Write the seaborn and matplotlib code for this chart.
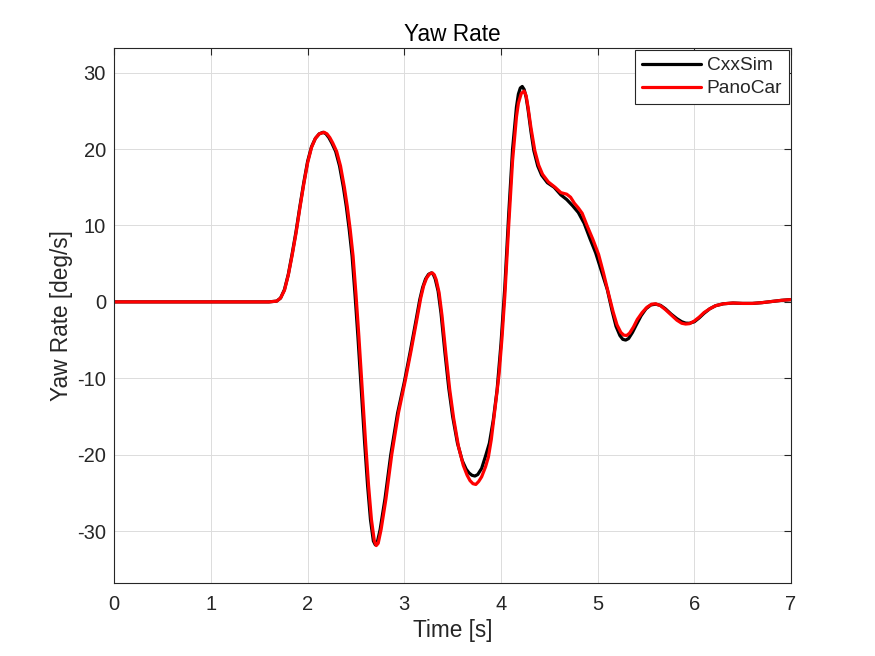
import numpy as np
import pandas as pd
import matplotlib
matplotlib.use("Agg")
import matplotlib.pyplot as plt
import seaborn as sns

# ---- data ----
cxx_t = [0.00, 1.60, 1.68, 1.72, 1.76, 1.80, 1.84, 1.88, 1.92, 1.96, 2.00, 2.04, 2.08, 2.12, 2.16,
         2.19, 2.22, 2.25, 2.29, 2.33, 2.37, 2.40, 2.43, 2.46, 2.49, 2.52, 2.55, 2.59, 2.62, 2.65, 2.68,
         2.70, 2.72, 2.75, 2.80, 2.86, 2.93, 3.00, 3.06, 3.12, 3.16, 3.19, 3.22, 3.25, 3.28, 3.30,
         3.32, 3.35, 3.38, 3.42, 3.46, 3.50, 3.55, 3.60, 3.64, 3.67, 3.70, 3.73, 3.76, 3.80, 3.84,
         3.88, 3.92, 3.96, 4.00, 4.04, 4.08, 4.12, 4.16, 4.18, 4.20, 4.22, 4.24, 4.26, 4.28, 4.31,
         4.34, 4.38, 4.42, 4.48, 4.55, 4.62, 4.68, 4.74, 4.80, 4.86, 4.92, 4.98, 5.04, 5.10, 5.15,
         5.19, 5.23, 5.26, 5.29, 5.32, 5.36, 5.40, 5.45, 5.50, 5.55, 5.60, 5.65, 5.70, 5.76, 5.82,
         5.87, 5.91, 5.95, 6.00, 6.05, 6.10, 6.16, 6.22, 6.30, 6.40, 6.50, 6.60, 6.70, 6.80, 6.90,
         7.00]
cxx_v = [0.0, 0.0, 0.1, 0.5, 1.6, 3.6, 6.3, 9.2, 12.5, 15.6, 18.4, 20.3, 21.4, 22.0, 22.2,
         22.0, 21.5, 20.8, 19.7, 17.8, 15.0, 12.5, 9.5, 6.0, 1.0, -4.5, -10.5, -18.5, -24.0, -28.5, -31.3,
         -31.8, -31.5, -29.8, -25.8, -20.0, -14.6, -10.5, -6.6, -2.5, 0.3, 1.9, 3.0, 3.6, 3.8, 3.6,
         3.0, 1.4, -1.5, -6.6, -11.3, -15.0, -18.5, -20.8, -21.9, -22.4, -22.7, -22.8, -22.6, -21.8, -20.2,
         -18.5, -15.5, -11.5, -5.5, 2.0, 11.5, 20.0, 25.5, 27.2, 28.0, 28.2, 27.8, 26.8, 25.2, 22.3,
         19.8, 17.8, 16.6, 15.6, 15.0, 14.0, 13.4, 12.6, 11.7, 10.3, 8.3, 6.4, 4.0, 1.6, -1.2,
         -3.2, -4.4, -4.9, -5.0, -4.8, -4.0, -3.0, -1.8, -0.9, -0.4, -0.3, -0.45, -0.9, -1.6, -2.2,
         -2.6, -2.78, -2.8, -2.6, -2.1, -1.5, -0.9, -0.5, -0.25, -0.15, -0.2, -0.2, -0.1, 0.05, 0.2,
         0.3]

pano_t = [0.00, 1.60, 1.68, 1.72, 1.76, 1.80, 1.84, 1.88, 1.92, 1.96, 2.00, 2.04, 2.08, 2.12, 2.17,
          2.20, 2.23, 2.26, 2.30, 2.34, 2.38, 2.41, 2.44, 2.47, 2.50, 2.53, 2.56, 2.60, 2.63, 2.66, 2.69,
          2.71, 2.73, 2.76, 2.81, 2.87, 2.94, 3.01, 3.07, 3.13, 3.17, 3.20, 3.23, 3.26, 3.29, 3.31,
          3.33, 3.36, 3.39, 3.43, 3.47, 3.51, 3.56, 3.61, 3.65, 3.68, 3.71, 3.74, 3.77, 3.80, 3.84,
          3.87, 3.90, 3.94, 3.98, 4.01, 4.04, 4.08, 4.12, 4.16, 4.18, 4.21, 4.24, 4.26, 4.28, 4.31,
          4.35, 4.39, 4.43, 4.49, 4.56, 4.62, 4.68, 4.72, 4.76, 4.80, 4.84, 4.89, 4.95, 5.01, 5.06,
          5.11, 5.16, 5.20, 5.24, 5.27, 5.30, 5.33, 5.37, 5.41, 5.46, 5.51, 5.56, 5.60, 5.65, 5.70,
          5.76, 5.82, 5.87, 5.91, 5.95, 6.00, 6.05, 6.10, 6.16, 6.22, 6.30, 6.40, 6.50, 6.60, 6.70,
          6.80, 6.90, 7.00]
pano_v = [0.0, 0.0, 0.1, 0.5, 1.5, 3.5, 6.1, 9.0, 12.3, 15.4, 18.2, 20.2, 21.4, 22.0, 22.2,
          22.0, 21.5, 20.8, 19.7, 17.8, 15.0, 12.5, 9.5, 6.0, 1.0, -4.5, -10.5, -18.5, -24.0, -28.5, -31.3,
          -31.9, -31.6, -29.8, -25.8, -20.0, -14.5, -10.3, -6.4, -2.3, 0.5, 2.1, 3.1, 3.65, 3.8, 3.55,
          2.9, 1.2, -1.8, -6.8, -11.5, -15.2, -18.9, -21.4, -22.7, -23.4, -23.8, -23.9, -23.5, -22.9, -21.6,
          -20.3, -18.0, -13.8, -9.5, -4.8, 0.8, 10.0, 18.5, 24.2, 26.0, 27.3, 27.6, 27.0, 25.5, 22.8,
          19.8, 17.9, 16.7, 15.7, 15.0, 14.3, 14.1, 13.7, 12.9, 12.3, 11.6, 10.0, 8.2, 6.2, 3.8,
          1.2, -1.3, -3.0, -4.0, -4.35, -4.4, -4.1, -3.3, -2.3, -1.4, -0.7, -0.3, -0.25, -0.5, -1.0,
          -1.7, -2.4, -2.8, -2.9, -2.85, -2.5, -2.0, -1.4, -0.9, -0.5, -0.25, -0.15, -0.2, -0.2, -0.1,
          0.05, 0.2, 0.3]

series_names = ["CxxSim", "PanoCar"]
series_colors = ["#000000", "#ff0000"]
x_ticks = [0, 1, 2, 3, 4, 5, 6, 7]
y_ticks = [-30, -20, -10, 0, 10, 20, 30]

df = pd.concat([
    pd.DataFrame({"t": cxx_t, "v": cxx_v, "src": series_names[0]}),
    pd.DataFrame({"t": pano_t, "v": pano_v, "src": series_names[1]}),
], ignore_index=True)

sns.set_theme(style="white")
plt.rcParams["font.family"] = ["Liberation Sans", "DejaVu Sans"]
plt.rcParams["axes.unicode_minus"] = False

fig = plt.figure(figsize=(8.75, 6.56), dpi=100, facecolor="white")
ax = fig.add_axes([0.1306, 0.1113, 0.7734, 0.8151])

sns.lineplot(data=df, x="t", y="v", hue="src", palette=dict(zip(series_names, series_colors)),
             estimator=None, sort=False, linewidth=2.3, ax=ax)

ax.set_xlim(0, 7)
ax.set_ylim(-36.8, 33.2)
ax.set_xticks(x_ticks)
ax.set_yticks(y_ticks)
ax.set_xticklabels([str(v) for v in x_ticks])
ax.set_yticklabels([str(v) for v in y_ticks])

axis_col = "#262626"
for sp in ax.spines.values():
    sp.set_visible(True)
    sp.set_color(axis_col)
    sp.set_linewidth(0.8)
ax.tick_params(direction="in", length=4.8, width=0.8, colors=axis_col, top=True, right=True,
               labelsize=14.5, pad=6)
ax.tick_params(axis="x", pad=9)
ax.grid(True, color="#dcdcdc", linewidth=0.7)
ax.set_axisbelow(True)

ax.set_xlabel("Time [s]", fontsize=16.3, color=axis_col, labelpad=3)
ax.set_ylabel("Yaw Rate [deg/s]", fontsize=16.3, color=axis_col, labelpad=3)
ax.set_title("Yaw Rate", fontsize=16.3, color="black", pad=5)

leg = ax.legend(loc="upper right", fontsize=13.8, frameon=True, fancybox=False, framealpha=1,
                edgecolor=axis_col, handlelength=3.1, handletextpad=0.3, borderaxespad=0.1,
                labelspacing=0.3, borderpad=0.35)
leg.get_frame().set_linewidth(0.8)
for line in leg.get_lines():
    line.set_linewidth(2.3)

fig.savefig("out.png", dpi=100, facecolor="white")
